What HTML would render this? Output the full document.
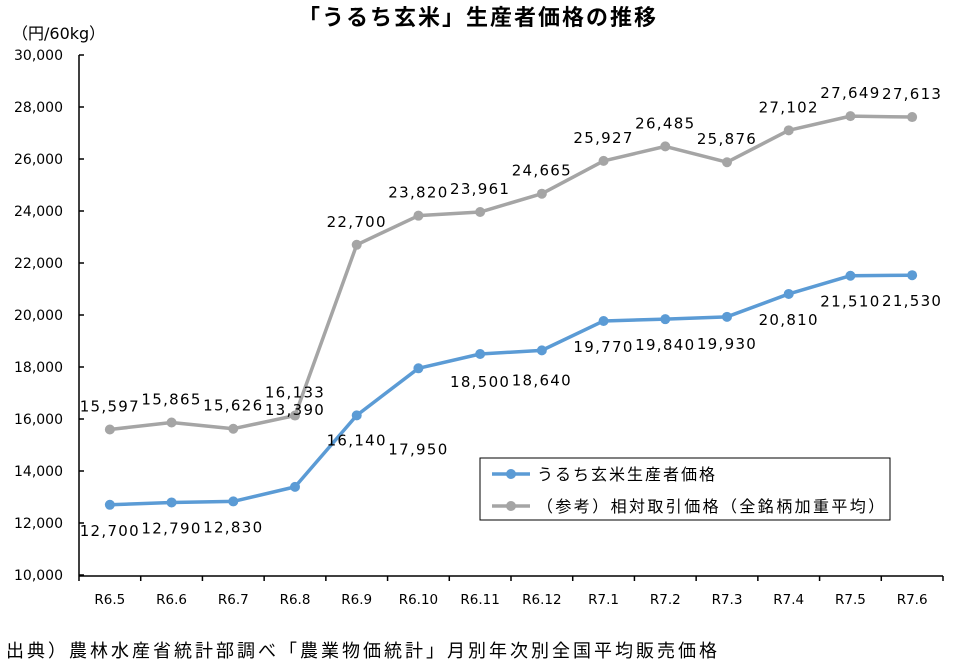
<!DOCTYPE html>
<html><head><meta charset="utf-8"><style>
html,body{margin:0;padding:0;background:#fff;}
svg{display:block;font-family:"DejaVu Sans","Noto Sans CJK JP",sans-serif;}
</style></head><body>
<svg id="chart" width="964" height="663" viewBox="0 0 964 663" xmlns="http://www.w3.org/2000/svg">
<text x="478" y="25" text-anchor="middle" font-size="22" letter-spacing="2" font-weight="bold" font-family="Noto Sans CJK JP, sans-serif" fill="#000">「うるち玄米」生産者価格の推移</text>
<text x="12" y="39" font-size="16" fill="#000" font-family="DejaVu Sans, Noto Sans CJK JP, sans-serif">（円/60kg）</text>
<text x="6" y="657" font-size="18" letter-spacing="3" fill="#000" font-family="Noto Sans CJK JP, sans-serif">出典）農林水産省統計部調べ「農業物価統計」月別年次別全国平均販売価格</text>
<g id="axes"></g>
<g id="series"></g>
<g>
<rect x="480" y="458" width="410" height="62" fill="#fff" stroke="#000" stroke-width="1"/>
<g>
<line x1="492" y1="474" x2="530" y2="474" stroke="#5B9BD5" stroke-width="3.5"/>
<circle cx="511" cy="474" r="5" fill="#5B9BD5"/>
<text x="537" y="480" font-size="16" letter-spacing="2" fill="#000" font-family="Noto Sans CJK JP, sans-serif">うるち玄米生産者価格</text></g>
<g>
<line x1="492" y1="506" x2="530" y2="506" stroke="#A5A5A5" stroke-width="3.5"/>
<circle cx="511" cy="506" r="5" fill="#A5A5A5"/>
<text x="537" y="512" font-size="16" letter-spacing="2.4" fill="#000" font-family="Noto Sans CJK JP, sans-serif">（参考）相対取引価格（全銘柄加重平均）</text></g>
</g>
</svg>
<script>
const categories=["R6.5","R6.6","R6.7","R6.8","R6.9","R6.10","R6.11","R6.12","R7.1","R7.2","R7.3","R7.4","R7.5","R7.6"];
const producerPrice=[12700,12790,12830,13390,16140,17950,18500,18640,19770,19840,19930,20810,21510,21530];
const relativePrice=[15597,15865,15626,16133,22700,23820,23961,24665,25927,26485,25876,27102,27649,27613];
const yTicks=[10000,12000,14000,16000,18000,20000,22000,24000,26000,28000,30000];
const producerLabelDy=[26,26,26,-77,25,81,28,30,26,26,27,26,26,26];
const NS="http://www.w3.org/2000/svg";
const L=79,R=943,T=55,B=575,yMin=10000,yMax=30000;
const step=(R-L)/categories.length;
const x=i=>L+step*(i+0.5);
const y=v=>B-(v-yMin)/(yMax-yMin)*(B-T);
const fmt=v=>v.toLocaleString("en-US");
function mk(tag,attrs,parent){const e=document.createElementNS(NS,tag);for(const k in attrs)e.setAttribute(k,attrs[k]);parent.appendChild(e);return e;}
const axes=document.getElementById("axes"),ser=document.getElementById("series");
let e=mk("line",{x1:L,y1:T,x2:L,y2:B+1,stroke:"#000","stroke-width":1.5},axes);


e=mk("line",{x1:L,y1:B+1,x2:R,y2:B+1,stroke:"#000","stroke-width":1.5},axes);


yTicks.forEach(v=>{
 mk("line",{x1:L,y1:y(v),x2:L+5,y2:y(v),stroke:"#000","stroke-width":1.5},axes);
 const t=mk("text",{x:L-16,y:y(v)+5,"text-anchor":"end","font-size":14,fill:"#000"},axes);
 t.textContent=fmt(v);
 
 
});
for(let i=0;i<=categories.length;i++){mk("line",{x1:L+step*i,y1:B+1,x2:L+step*i,y2:B+6,stroke:"#000","stroke-width":1.5},axes);}
categories.forEach((c,i)=>{
 const t=mk("text",{x:x(i),y:604,"text-anchor":"middle","font-size":13.5,fill:"#000"},axes);
 t.textContent=c;
 
 
});
function series(vals,color,name,dyArr,dyConst){
 const g=mk("g",{},ser);
 
 
 const p=mk("polyline",{points:vals.map((v,i)=>x(i)+","+y(v)).join(" "),fill:"none",stroke:color,"stroke-width":3.5,"stroke-linejoin":"round"},g);
 
 
 vals.forEach((v,i)=>{
  const c=mk("circle",{cx:x(i),cy:y(v),r:5,fill:color},g);
  
  
  const dy=dyArr?dyArr[i]:dyConst;
  const t=mk("text",{x:x(i),y:y(v)+dy+5,"text-anchor":"middle","font-size":15,"letter-spacing":1.3,fill:"#000"},g);
  t.textContent=fmt(v);
  
  
 });
}
series(relativePrice,"#A5A5A5","relative-price-series",null,-23);
series(producerPrice,"#5B9BD5","producer-price-series",producerLabelDy,0);
</script>
</body></html>
